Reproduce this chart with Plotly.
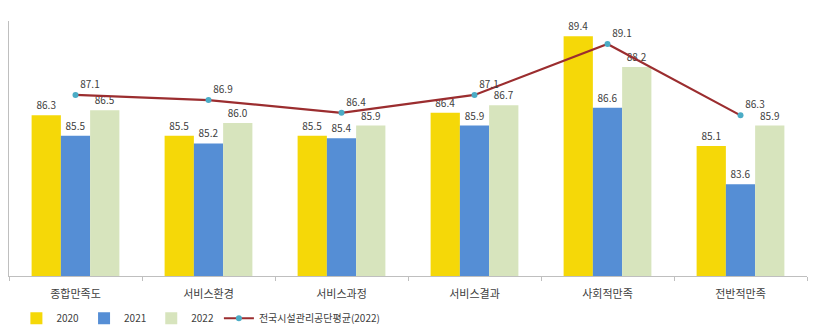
import plotly.graph_objects as go

# Satisfaction scores by category
categories = ["종합만족도", "서비스환경", "서비스과정", "서비스결과", "사회적만족", "전반적만족"]
y2020 = [86.3, 85.5, 85.5, 86.4, 89.4, 85.1]
y2021 = [85.5, 85.2, 85.4, 85.9, 86.6, 83.6]
y2022 = [86.5, 86.0, 85.9, 86.7, 88.2, 85.9]
national_avg_2022 = [87.1, 86.9, 86.4, 87.1, 89.1, 86.3]

FONT = "Noto Sans CJK KR, Noto Sans, sans-serif"
label_font = dict(family=FONT, size=10, color="#404040")

fig = go.Figure()

bar_series = [
    ("2020", y2020, "#F5D808"),
    ("2021", y2021, "#558ED5"),
    ("2022", y2022, "#D7E4BD"),
]
for name, vals, color in bar_series:
    fig.add_trace(go.Bar(
        x=categories, y=vals, name=name,
        marker=dict(color=color, line=dict(width=0)),
        text=[f"{v:.1f}" for v in vals],
        textposition="outside",
        textfont=label_font,
        cliponaxis=False,
    ))

fig.add_trace(go.Scatter(
    x=categories, y=national_avg_2022, name="전국시설관리공단평균(2022)",
    mode="lines+markers+text",
    line=dict(color="#9B2D2F", width=2.2),
    marker=dict(color="#4BACC6", size=6),
    text=[f"{v:.1f}" for v in national_avg_2022],
    textposition="top right",
    textfont=label_font,
    cliponaxis=False,
))

fig.update_layout(
    width=820, height=335,
    margin=dict(l=9, r=13, t=21, b=59, autoexpand=False),
    paper_bgcolor="white", plot_bgcolor="white",
    barmode="group", bargap=0.34, bargroupgap=0,
    font=dict(family=FONT, size=11, color="#404040"),
    showlegend=True,
    legend=dict(
        orientation="h", x=0.02, xref="container", y=0.05, yref="container",
        xanchor="left", yanchor="middle",
        font=dict(family=FONT, size=10, color="#404040"),
        itemwidth=30, traceorder="normal",
        bgcolor="rgba(0,0,0,0)",
    ),
    xaxis=dict(
        showline=True, linecolor="#BFBFBF", linewidth=1,
        ticks="outside", tickson="boundaries", ticklen=4, tickcolor="#BFBFBF",
        ticklabelstandoff=8,
        showgrid=False, tickfont=dict(family=FONT, size=11, color="#404040"),
    ),
    yaxis=dict(
        range=[80, 90], showline=True, linecolor="#BFBFBF", linewidth=1,
        showgrid=False, showticklabels=False, ticks="", zeroline=False,
    ),
)

fig.write_html("out.html")
